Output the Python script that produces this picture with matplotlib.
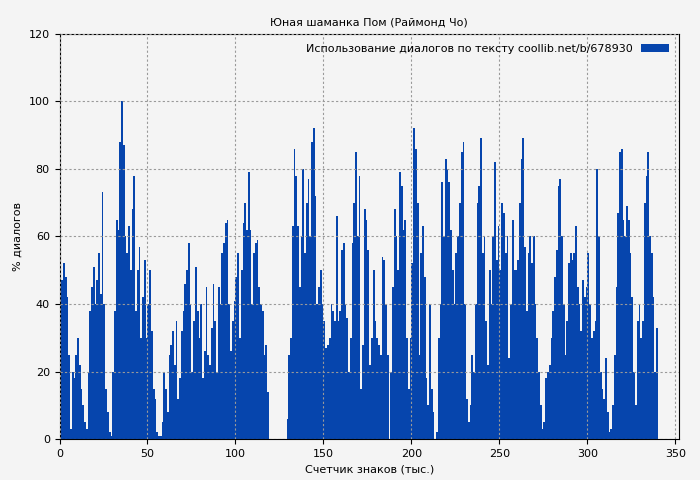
import matplotlib
matplotlib.use("Agg")
import matplotlib.pyplot as plt
import numpy as np

# % of dialogue per thousand characters
dialog_pct = [
    35, 47, 52, 48, 42, 25, 3, 20, 18, 25, 30, 22, 15, 10, 5, 3,
    20, 38, 45, 51, 40, 47, 55, 43, 73, 40, 15, 8, 2, 1,
    20, 38, 65, 62, 88, 100, 87, 60, 55, 63, 50, 68, 78, 38,
    50, 57, 30, 42, 53, 30, 40, 50, 32, 15, 12, 2, 1, 1, 5, 20,
    15, 8, 25, 28, 32, 22, 35, 12, 18, 32, 38, 46, 50, 58, 40, 20,
    35, 51, 38, 30, 40, 18, 26, 45, 25, 22, 33, 46, 35, 20, 45,
    40, 55, 58, 64, 65, 40, 26, 35, 41, 48, 55, 30, 50, 64, 70, 62,
    79, 62, 40, 55, 58, 59, 45, 40, 38, 25, 28, 14, 0, 0, 0, 0,
    0, 0, 0, 0, 0, 0, 6, 25, 30, 63, 86, 78, 63, 45, 60, 80, 55,
    70, 77, 60, 88, 92, 72, 40, 45, 50, 40, 35, 27, 28, 30, 40,
    38, 35, 66, 35, 38, 56, 58, 40, 36, 20, 30, 58, 70, 85, 60,
    78, 15, 28, 68, 65, 56, 22, 30, 50, 35, 30, 28, 25, 54, 53,
    40, 25, 0, 20, 45, 68, 60, 50, 79, 75, 62, 65, 30, 15, 30, 52,
    92, 86, 70, 25, 55, 63, 48, 18, 10, 40, 15, 8, 0, 2, 30, 40,
    76, 60, 83, 80, 76, 62, 50, 40, 55, 60, 70, 85, 88, 40, 12, 5,
    10, 25, 20, 40, 70, 75, 89, 55, 60, 35, 22, 50, 40, 60, 82, 53,
    63, 50, 70, 67, 55, 60, 24, 40, 65, 50, 50, 53, 70, 83, 89, 57,
    38, 55, 60, 52, 60, 40, 30, 20, 10, 3, 5, 18, 20, 22, 30, 38,
    48, 56, 75, 77, 60, 40, 25, 35, 52, 55, 53, 55, 63, 45, 40, 32,
    47, 42, 45, 55, 40, 30, 32, 35, 80, 60, 20, 15, 12, 24, 8, 2, 3,
    10, 25, 45, 67, 85, 86, 65, 60, 69, 65, 55, 42, 20, 10, 35, 40,
    30, 35, 70, 78, 85, 60, 55, 42, 20, 33,
]
x = np.arange(len(dialog_pct))

fig, ax = plt.subplots(figsize=(7, 4.8), dpi=100)
fig.patch.set_facecolor("#f4f4f4")
ax.set_facecolor("#f4f4f4")
ax.bar(x, dialog_pct, width=1.0, align="edge", color="#0645ad",
       label="Использование диалогов по тексту coollib.net/b/678930")
ax.set_xlim(0, 352)
ax.set_ylim(0, 120)
ax.set_xticks(range(0, 351, 50))
ax.set_yticks(range(0, 121, 20))
ax.grid(True, color="#999999", linestyle=(0, (2, 2)), linewidth=0.8)
ax.set_axisbelow(False)
ax.tick_params(labelsize=8)
ax.set_title("Юная шаманка Пом (Раймонд Чо)", fontsize=8)
ax.set_xlabel("Счетчик знаков (тыс.)", fontsize=8)
ax.set_ylabel("% диалогов", fontsize=8)
ax.legend(loc="upper right", fontsize=8, frameon=False, handlelength=2.5,
          markerfirst=False)
fig.subplots_adjust(left=0.085, right=0.97, top=0.93, bottom=0.085)
fig.savefig("out.png")
